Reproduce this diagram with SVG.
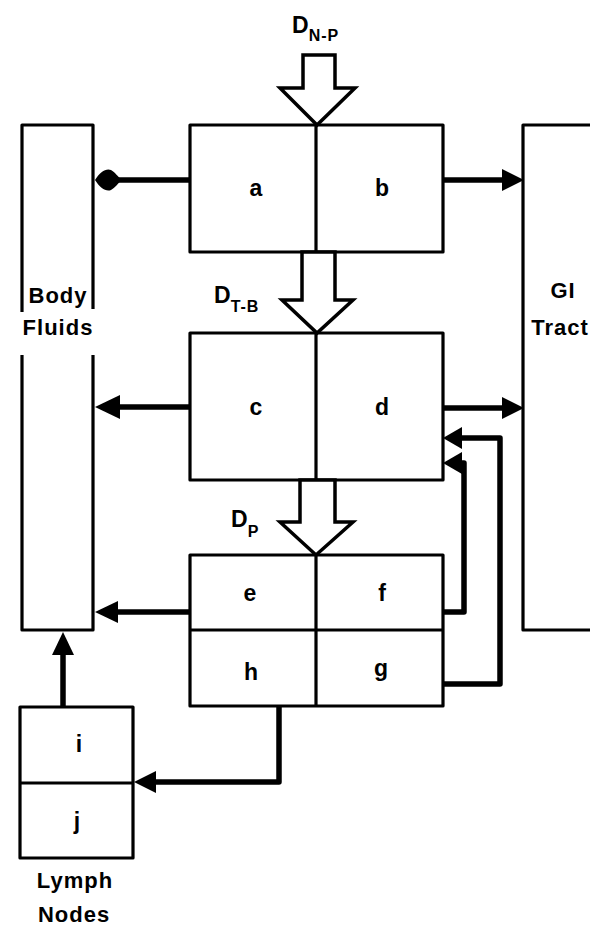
<svg xmlns="http://www.w3.org/2000/svg" width="590" height="926" viewBox="0 0 590 926">
<style>
.box{fill:none;stroke:#000;stroke-width:3.2;stroke-linejoin:round}
.big{fill:#fff;stroke:#000;stroke-width:3.5;stroke-linejoin:miter}
.con{fill:none;stroke:#000;stroke-width:5.5;stroke-linejoin:round}
.head{fill:#000;stroke:none}
.lbl{font-family:"Liberation Sans",Arial,sans-serif;font-weight:bold;font-size:23px;fill:#000;text-anchor:middle}
.name{font-family:"Liberation Sans",Arial,sans-serif;font-weight:bold;font-size:22px;fill:#000;text-anchor:middle;letter-spacing:1px}
.dl{font-family:"Liberation Sans",Arial,sans-serif;font-weight:bold;font-size:23px;fill:#000}
.sub{font-size:16px;letter-spacing:1px}
</style>
<rect width="590" height="926" fill="#fff"/>
<g id="body-fluids">
<path class="box" d="M22,312 V125 H93 V309 M93,355 V630 H22 V355"/>
<text class="name" x="58" y="303">Body</text>
<text class="name" x="58" y="335">Fluids</text>
</g>
<g id="gi-tract">
<path class="box" d="M592,125 H523 V630 H592"/>
<text class="name" x="563" y="298">GI</text>
<text class="name" x="560" y="335">Tract</text>
</g>
<g id="flow-dnp">
<path class="big" d="M303,55 H335 V88 H355 L317,125 L280,88 H303 Z"/>
<text class="dl" x="292" y="33">D<tspan class="sub" dy="8">N-P</tspan></text>
</g>
<g id="box-ab">
<rect class="box" x="190" y="125" width="253" height="127"/>
<line class="box" x1="316" y1="125" x2="316" y2="252"/>
<text class="lbl" x="256" y="196">a</text>
<text class="lbl" x="382" y="196">b</text>
</g>
<g id="flow-dtb">
<path class="big" d="M302,252 H335 V300 H353 L317,333 L282,300 H302 Z"/>
<text class="dl" x="214" y="303">D<tspan class="sub" dy="9">T-B</tspan></text>
</g>
<g id="box-cd">
<rect class="box" x="190" y="333" width="253" height="147"/>
<line class="box" x1="316" y1="333" x2="316" y2="480"/>
<text class="lbl" x="256" y="415">c</text>
<text class="lbl" x="382" y="415">d</text>
</g>
<g id="flow-dp">
<path class="big" d="M300,480 H335 V522 H353 L316,555 L280,522 H300 Z"/>
<text class="dl" x="231" y="527">D<tspan class="sub" dy="10">P</tspan></text>
</g>
<g id="box-efgh">
<rect class="box" x="190" y="555" width="253" height="151"/>
<line class="box" x1="316" y1="555" x2="316" y2="706"/>
<line class="box" x1="190" y1="630" x2="443" y2="630"/>
<text class="lbl" x="250" y="601">e</text>
<text class="lbl" x="382" y="601">f</text>
<text class="lbl" x="251" y="680">h</text>
<text class="lbl" x="381" y="676">g</text>
</g>
<g id="lymph-nodes">
<rect class="box" x="20" y="707" width="113" height="151"/>
<line class="box" x1="20" y1="783" x2="133" y2="783"/>
<text class="lbl" x="79" y="752">i</text>
<text class="lbl" x="77" y="829">j</text>
<text class="name" x="75" y="888">Lymph</text>
<text class="name" x="74" y="922">Nodes</text>
</g>
<g id="connectors">
<path class="con" d="M190,180 H112"/>
<path class="head" d="M95,180 C100,172 106,168 111,170 C115,172 118,177 122,180 C118,183 115,188 111,190 C106,192 100,188 95,180 Z"/>
<path class="con" d="M443,180 H505"/>
<path class="head" d="M524,180 L502,169 L502,191 Z"/>
<path class="con" d="M190,407 H112"/>
<path class="head" d="M95,407 L120,395 L120,419 Z"/>
<path class="con" d="M443,408 H505"/>
<path class="head" d="M524,408 L502,397 L502,419 Z"/>
<path class="con" d="M443,684 H500 V438 H458"/>
<path class="head" d="M443,438 L462,427 L462,449 Z"/>
<path class="con" d="M443,612 H464 V463 H458"/>
<path class="head" d="M443,463 L462,452 L462,474 Z"/>
<path class="con" d="M190,612 H112"/>
<path class="head" d="M95,612 L118,601 L118,623 Z"/>
<path class="con" d="M63,707 V650"/>
<path class="head" d="M63,632 L52,655 L74,655 Z"/>
<path class="con" d="M279,706 V782 H152"/>
<path class="head" d="M134,782 L156,771 L156,793 Z"/>
</g>
</svg>
